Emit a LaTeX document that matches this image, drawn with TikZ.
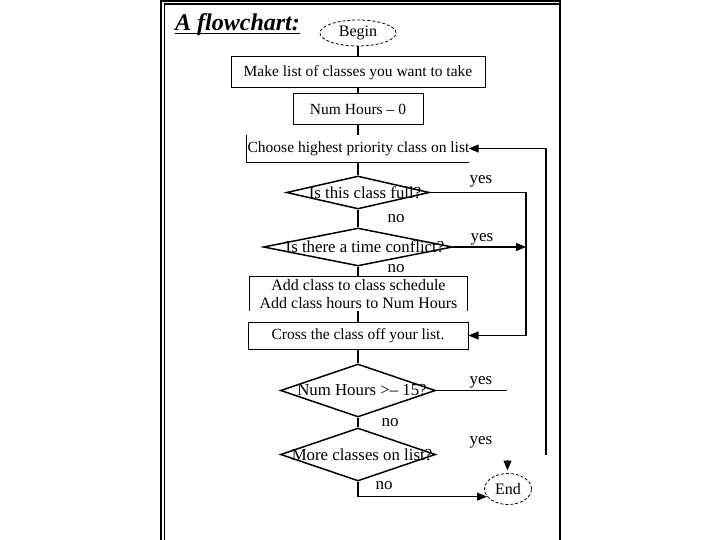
\documentclass[tikz,border=0pt]{standalone}
\usepackage{fontspec}
\setmainfont{Liberation Serif}
\usetikzlibrary{shapes.geometric,arrows.meta}
\newcommand\dtxt[2]{\makebox[0pt]{\hspace*{#1pt}#2}}
\begin{document}
\begin{tikzpicture}[x=1pt,y=-1pt,
  every node/.style={font=\fontsize{15.5}{18}\selectfont, inner sep=0pt},
  box/.style={draw, line width=1pt, rectangle},
  openbox/.style={rectangle},
  dec/.style={draw, line width=1.5pt, diamond, inner sep=0pt, font=\fontsize{16.8}{19}\selectfont},
  term/.style={draw, dashed, ellipse, line width=0.8pt, dash pattern=on 3pt off 2pt, font=\fontsize{16}{18}\selectfont},
  lbl/.style={font=\fontsize{17}{19}\selectfont},
  conn/.style={line width=1.1pt},
  arr/.style={conn, -{Triangle[length=10pt,width=8pt]}},
]
\useasboundingbox (0,0) rectangle (720,540);
% frame
\draw[line width=2.4pt] (161,545) -- (161,0.8) -- (560,0.8) -- (560,545);
\draw[line width=1.4pt] (164.5,545) -- (164.5,4) -- (558.5,4);
% title
\node[anchor=base west, font=\fontsize{24}{26}\selectfont\bfseries\itshape] (title) at (175,31) {A flowchart:};
\draw[line width=1.8pt] ([yshift=-2.5pt]title.base west) -- ([yshift=-2.5pt]title.base east);
% nodes
\node[term, minimum width=76pt, minimum height=26pt] (begin) at (358,33) {Begin};
\node[box, minimum width=254pt, minimum height=31pt] (make) at (358,72.5) {Make list of classes you want to take};
\node[box, minimum width=130pt, minimum height=31pt] (num) at (358,109.5) {Num Hours – 0};
\node[openbox, minimum width=222pt, minimum height=27pt] (choose) at (357.5,148.5) {\dtxt{2}{Choose highest priority class on list}};
\node[dec, minimum width=143pt, minimum height=33pt] (d1) at (358,192.5) {\dtxt{14}{Is this class full?}};
\node[dec, minimum width=189pt, minimum height=38pt] (d2) at (358,247) {\dtxt{14}{Is there a time conflict?}};
\node[openbox, minimum width=217pt, minimum height=34pt, align=center, font=\fontsize{16}{18}\selectfont] (add) at (358.5,294) {Add class to class schedule\\Add class hours to Num Hours};
\node[box, minimum width=220pt, minimum height=27pt] (cross) at (358,335.5) {Cross the class off your list.};
\node[dec, minimum width=155pt, minimum height=53pt] (d3) at (358,390.5) {\dtxt{8}{Num Hours >– 15?}};
\node[dec, minimum width=155pt, minimum height=53pt] (d4) at (358,454.5) {\dtxt{8}{More classes on list?}};
\node[term, minimum width=47pt, minimum height=31pt] (end) at (508,489) {End};
% labels
\node[lbl] (y1) at (481,181) {yes};
\node[lbl] (n1) at (396,219) {no};
\node[lbl] (y2) at (482,239) {yes};
\node[lbl] (n2) at (396,269) {no};
\node[lbl] (y3) at (481,382) {yes};
\node[lbl] (n3) at (390,423) {no};
\node[lbl] (y4) at (481,442) {yes};
\node[lbl] (n4) at (384,486) {no};
% open box lines
\draw[conn] (choose.north west) -- (choose.south west) -- (choose.south east);
\draw[conn] (add.south west) -- (add.north west) -- (add.north east) -- (add.south east);
% coordinates
\coordinate (ra) at (526,192.5);
\coordinate (rb) at (526,247);
\coordinate (y3end) at (507,390.5);
\coordinate (rc) at (546,455);
\coordinate (ta) at (507.5,460);
\coordinate (tb) at (507.5,470.5);
% connectors
\draw[conn] (begin.south) -- (make.north);
\draw[conn] (make.south) -- (num.north);
\draw[conn] (num.south) -- (num.south |- choose.north);
\draw[conn] (d1.north |- choose.south) -- (d1.north);
\draw[conn] (d1.south) -- (d2.north);
\draw[conn] (d2.south) -- (d2.south |- add.north);
\draw[conn] (cross.north |- add.south) -- (cross.north);
\draw[conn] (cross.south) -- (d3.north);
\draw[conn] (d3.south) -- (d4.north);
\draw[arr] (d1.east) -- (ra) |- (cross.east);
\draw[arr] (d2.east) -- (rb);
\draw[conn] (d3.east) -- (y3end);
\draw[arr] (rc) |- (choose.east);
\draw[arr] (d4.south) |- (end.200);
\draw[arr] (ta) -- (tb);
\end{tikzpicture}
\end{document}
